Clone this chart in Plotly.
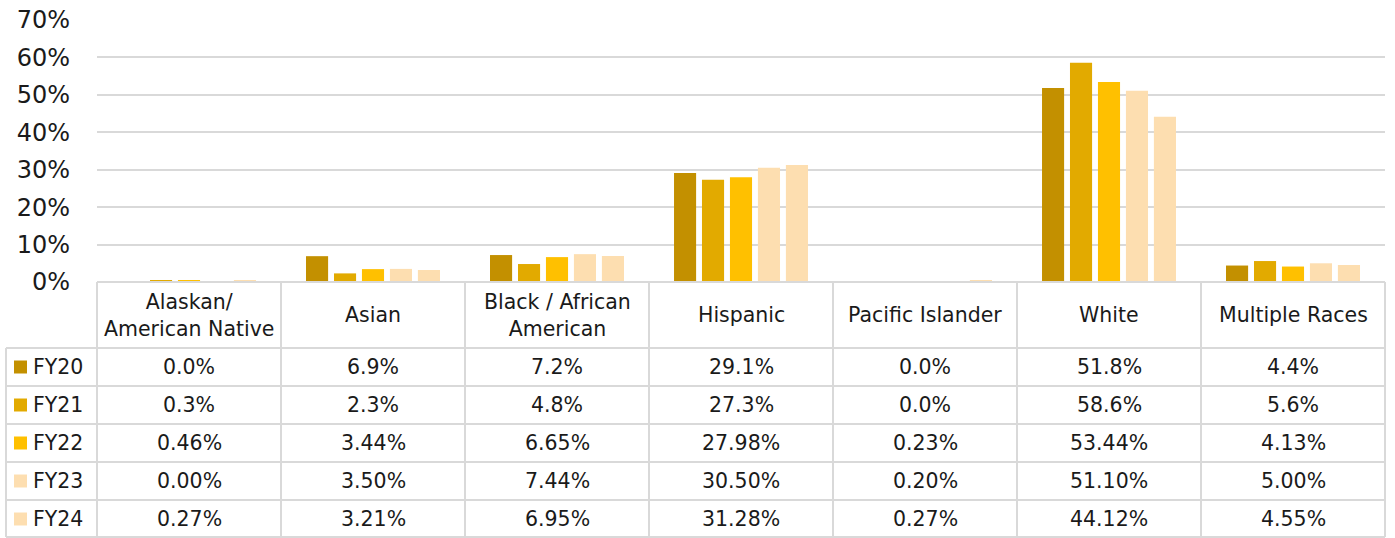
import plotly.graph_objects as go

W, H = 1395, 538

categories = ["Alaskan/<br>American Native", "Asian", "Black / African<br>American",
              "Hispanic", "Pacific Islander", "White", "Multiple Races"]
series = ["FY20", "FY21", "FY22", "FY23", "FY24"]
fy20 = [0.0, 6.9, 7.2, 29.1, 0.0, 51.8, 4.4]
fy21 = [0.3, 2.3, 4.8, 27.3, 0.0, 58.6, 5.6]
fy22 = [0.46, 3.44, 6.65, 27.98, 0.23, 53.44, 4.13]
fy23 = [0.00, 3.50, 7.44, 30.50, 0.20, 51.10, 5.00]
fy24 = [0.27, 3.21, 6.95, 31.28, 0.27, 44.12, 4.55]
decimals = [1, 1, 2, 2, 2]
colors = ["#C39000", "#E2AA00", "#FFC000", "#FDDEB0", "#FDDEB0"]
values = [fy20, fy21, fy22, fy23, fy24]

FONT = "DejaVu Sans"
GRID = "#D9D9D9"
TXT = "#1a1a1a"


def px_x(x):
    return x / W


def px_y(y):
    return 1 - y / H


# pixel layout of plot + table
left, right = 97, 1385
top, base = 20, 282
header_bottom = 348
row_h = 38
label_left = 6

fig = go.Figure()
for name, vals, col in zip(series, values, colors):
    fig.add_trace(go.Bar(
        x=categories, y=[v / 100 for v in vals], name=name,
        marker=dict(color=col, line=dict(width=0)),
        hoverinfo="x+y",
    ))

shapes = []
annotations = []
line = dict(color=GRID, width=2)

# table border lines
bottom = header_bottom + row_h * len(series) - 1
shapes.append(dict(type="line", xref="paper", yref="paper",
                   x0=px_x(left), x1=px_x(right), y0=px_y(base), y1=px_y(base), line=line))
for i in range(len(series) + 1):
    y = min(header_bottom + i * row_h, bottom)
    shapes.append(dict(type="line", xref="paper", yref="paper",
                       x0=px_x(label_left), x1=px_x(right), y0=px_y(y), y1=px_y(y), line=line))
col_w = (right - left) / len(categories)
for j in range(len(categories) + 1):
    x = left + j * col_w
    shapes.append(dict(type="line", xref="paper", yref="paper",
                       x0=px_x(x), x1=px_x(x), y0=px_y(base), y1=px_y(bottom), line=line))
shapes.append(dict(type="line", xref="paper", yref="paper",
                   x0=px_x(label_left), x1=px_x(label_left),
                   y0=px_y(header_bottom), y1=px_y(bottom), line=line))

TABLE_SIZE = 20.5

# header labels
for cat in categories:
    annotations.append(dict(x=cat, xref="x", yref="paper", y=px_y((base + header_bottom) / 2),
                            text=cat, showarrow=False, yanchor="middle",
                            font=dict(family=FONT, size=TABLE_SIZE, color=TXT)))

# series rows
for i, (name, vals, col, d) in enumerate(zip(series, values, colors, decimals)):
    yc = header_bottom + i * row_h + row_h / 2
    shapes.append(dict(type="rect", xref="paper", yref="paper",
                       x0=px_x(14), x1=px_x(27), y0=px_y(yc - 6.5), y1=px_y(yc + 6.5),
                       fillcolor=col, line=dict(width=0)))
    annotations.append(dict(x=px_x(31), xref="paper", y=px_y(yc), yref="paper",
                            text=name, showarrow=False, xanchor="left", yanchor="middle",
                            font=dict(family=FONT, size=TABLE_SIZE, color=TXT)))
    for cat, v in zip(categories, vals):
        annotations.append(dict(x=cat, xref="x", y=px_y(yc), yref="paper",
                                text=f"{v:.{d}f}%", showarrow=False, yanchor="middle",
                                font=dict(family=FONT, size=TABLE_SIZE, color=TXT)))

fig.update_layout(
    width=W, height=H,
    margin=dict(l=0, r=0, t=0, b=0, autoexpand=False),
    paper_bgcolor="white", plot_bgcolor="white",
    barmode="group", bargap=0.24, bargroupgap=0.21,
    showlegend=False,
    font=dict(family=FONT, color=TXT),
    xaxis=dict(domain=[px_x(left), px_x(right)], showticklabels=False,
               showgrid=False, zeroline=False, showline=False, ticks=""),
    yaxis=dict(domain=[px_y(base), px_y(top)], range=[0, 0.7], dtick=0.1,
               tickformat=".0%", showgrid=True, gridcolor=GRID, gridwidth=2,
               zeroline=False, showline=False, ticklabelstandoff=26,
               tickfont=dict(family=FONT, size=24, color=TXT)),
    shapes=shapes,
    annotations=annotations,
)

fig.write_html("out.html", config={"displayModeBar": False},
               post_script="document.body.style.margin='0';document.body.style.overflow='hidden';")
